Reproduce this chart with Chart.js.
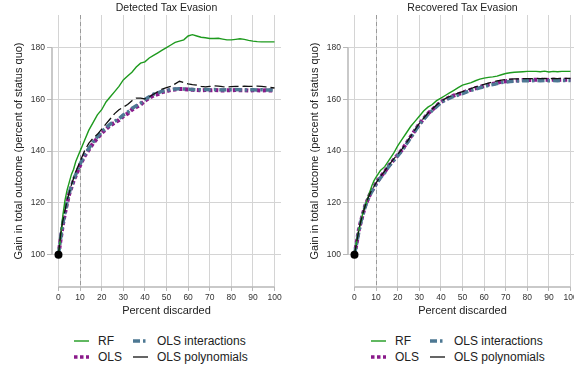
<!DOCTYPE html>
<html>
<head>
<meta charset="utf-8">
<script src="https://cdn.jsdelivr.net/npm/chart.js@4.4.1/dist/chart.umd.min.js"></script>
<style>
  html, body { margin: 0; padding: 0; background: #fff; }
  body { width: 574px; height: 366px; overflow: hidden; position: relative; font-family: "Liberation Sans", Arial, sans-serif; }
  canvas { position: absolute; top: 0; }
  #leftChart { left: 0; }
  #rightChart { left: 296px; }
  .legend { position: absolute; top: 333px; font-size: 12px; color: #222; }
  .item { position: absolute; white-space: nowrap; height: 16px; line-height: 16px; }
  .item svg { position: absolute; left: 0; top: 3px; }
  .item span { position: absolute; }
</style>
</head>
<body>
<canvas id="leftChart" width="290" height="325"></canvas>
<canvas id="rightChart" width="290" height="325"></canvas>
<div class="legend" id="leftLegend" style="left:74px"></div>
<div class="legend" id="rightLegend" style="left:371px"></div>
<script>
// x positions (percent discarded)
var pctDiscarded = [0,1,2,3,4,5,6,7,8,9,10,12,14,16,18,20,22,24,26,28,30,32,34,36,38,40,
  42,44,46,48,50,52,54,56,58,60,62,64,66,68,70,72,74,76,78,80,82,84,86,88,90,92,94,96,98,100];

var xTickLabels = [0,10,20,30,40,50,60,70,80,90,100];
var yTickLabels = [100,120,140,160,180];
var cutoff = 10;

// Detected tax evasion
var detRF = [100,107,115,121,125,128,131,133,136,138,140,
  144,148,151,154,156,159,161,163,165,167.5,169,170.5,172.5,174,174.5,176,177,178,179,180,
  181,182,182.5,183,184.5,185,184.5,184,183.8,183.5,183.5,183.6,183.3,183,183,183.2,183.4,183.2,182.8,182.5,
  182.3,182.2,182.2,182.2,182.2];
var detOLS = [100,106,111.5,116,120,123.5,126,128.5,130.5,132.5,134.5,
  138,140.5,143,145,147,148.5,150,151,152,153.5,154.5,156,157,158,159.5,160.5,161.5,162,162.8,163.2,
  163.6,163.8,164,164,163.8,163.7,163.6,163.5,163.6,163.5,163.6,163.5,163.4,163.5,163.5,163.6,163.5,163.5,163.4,163.5,
  163.5,163.4,163.5,163.4,163.4];
var detInter = [100,106.5,112,116.5,120.5,124,126.5,129,131,133,135,
  138.5,141,143.5,145.5,147.5,149,150.5,151.5,152.5,154,155,156.5,157.5,158.5,160,161,162,162.5,163.2,163.5,
  163.8,164,164.1,164,163.9,163.8,163.7,163.7,163.8,163.7,163.8,163.7,163.6,163.7,163.7,163.8,163.7,163.6,163.7,163.7,
  163.6,163.7,163.6,163.6,163.6];
var detPoly = [100,108,113,117,121,124,127,129.5,132,134,136,
  140,143,145,146.5,148.5,150.5,152.5,154.5,156,157,158,159.5,160.5,160.5,160.2,161,162,163,164,164.5,
  165,166,167,166.5,166,165.7,165.5,165,164.8,165,165.2,165.1,164.9,164.8,164.9,165,165,165.1,165,165,
  165.1,165,164.8,164.6,164.4];

// Recovered tax evasion
var recRF = [100,105,109.5,113,116.5,119,121.5,124,126.5,128.5,130,
  132.5,134,136.5,139,142,144.5,147,149.5,151.5,153.5,155.5,157,158,159.5,160.5,161.5,162.5,163.5,164.5,165.5,
  166,166.5,167.2,167.8,168.2,168.5,168.7,169,169.5,170,170.3,170.5,170.6,170.7,170.8,170.8,170.8,170.7,170.9,170.6,
  170.8,170.7,170.8,170.8,170.8];
var recOLS = [100,104.5,109.5,113,116,119,121,123,124.5,126,127.5,
  130,132,134.5,136.5,138.5,140.5,143,145.5,148,150.5,152.5,154.5,156,157.5,159,160,160.8,161.5,162,162.5,
  163.2,163.8,164.3,164.8,165.2,165.7,166,166.4,166.8,167,167.2,167.3,167.4,167.5,167.5,167.5,167.6,167.5,167.6,167.5,
  167.6,167.5,167.6,167.6,167.6];
var recInter = [100,104.3,108.8,112.8,115.8,118.7,120.8,122.8,124.3,125.8,127.2,
  129.7,131.7,134.2,136.2,138.2,140.2,142.7,145.2,147.7,150.2,152.2,154.2,155.7,157.2,158.7,159.7,160.5,161.2,161.7,162.2,
  162.9,163.5,164,164.5,164.9,165.4,165.7,166.1,166.5,166.7,166.9,167,167.1,167.2,167.2,167.2,167.3,167.2,167.3,167.2,
  167.3,167.2,167.3,167.3,167.3];
var recPoly = [100,104.8,109.5,113.2,116.2,119,121.2,123.2,125,126.3,127.7,
  130.2,132.3,134.7,136.8,138.8,140.8,143.2,145.7,148.2,150.7,152.7,154.7,156.3,157.8,159.2,160.3,161.1,161.8,162.4,163,
  163.6,164.2,164.8,165.3,165.8,166.3,166.7,167.1,167.4,167.7,167.8,167.9,167.9,168,168,168,168.1,168,168.1,168,
  168.1,168,168.1,168.1,168.1];

var seriesNames = ['RF', 'OLS interactions', 'OLS', 'OLS polynomials'];

var styles = {
  'RF': { color: '#1e9a1e', width: 1.4, dash: [] },
  'OLS': { color: '#8a1a8a', width: 4, dash: [3.5, 2.5] },
  'OLS interactions': { color: '#4d7893', width: 3.5, dash: [7, 3, 2.5, 3] },
  'OLS polynomials': { color: '#111', width: 1.3, dash: [10, 4] }
};
var drawOrder = { 'OLS polynomials': 0, 'RF': 1, 'OLS interactions': 2, 'OLS': 3 };

function toPoints(ys) {
  return ys.map(function (y, i) { return { x: pctDiscarded[i], y: y }; });
}

var decorPlugin = {
  id: 'decor',
  beforeDatasetsDraw: function (chart) {
    var ctx = chart.ctx, a = chart.chartArea;
    var xs = chart.scales.x, ys = chart.scales.y;
    ctx.save();
    // cutoff line
    ctx.strokeStyle = '#9a9a9a';
    ctx.lineWidth = 1;
    ctx.setLineDash([4, 3]);
    var cx = Math.round(xs.getPixelForValue(cutoff)) + 0.5;
    ctx.beginPath(); ctx.moveTo(cx, a.top); ctx.lineTo(cx, a.bottom); ctx.stroke();
    // axis lines across the tick range
    ctx.setLineDash([]);
    ctx.strokeStyle = '#b8b8b8';
    ctx.lineWidth = 1.5;
    ctx.beginPath();
    ctx.moveTo(a.left, ys.getPixelForValue(yTickLabels[0]));
    ctx.lineTo(a.left, ys.getPixelForValue(yTickLabels[yTickLabels.length - 1]));
    ctx.moveTo(xs.getPixelForValue(xTickLabels[0]), a.bottom);
    ctx.lineTo(xs.getPixelForValue(xTickLabels[xTickLabels.length - 1]), a.bottom);
    ctx.stroke();
    ctx.restore();
  },
  afterDraw: function (chart, args, opts) {
    var ctx = chart.ctx, a = chart.chartArea;
    ctx.save();
    ctx.font = '10.5px "Liberation Sans", Arial, sans-serif';
    ctx.fillStyle = '#222';
    ctx.textAlign = 'center';
    ctx.textBaseline = 'middle';
    ctx.fillText(opts.title, (a.left + a.right) / 2, 8);
    ctx.restore();
  }
};

function makePanel(id, title, rf, ols, inter, poly) {
  var values = { 'RF': rf, 'OLS': ols, 'OLS interactions': inter, 'OLS polynomials': poly };
  var datasets = seriesNames.map(function (name) {
    var s = styles[name];
    return {
      label: name,
      data: toPoints(values[name]),
      borderColor: s.color,
      backgroundColor: s.color,
      borderWidth: s.width,
      borderDash: s.dash,
      borderCapStyle: 'butt',
      tension: 0,
      order: drawOrder[name],
      pointRadius: name === 'OLS polynomials' ? function (c) { return c.dataIndex === 0 ? 4 : 0; } : 0,
      pointBackgroundColor: '#000',
      pointBorderWidth: 0
    };
  });

  return new Chart(document.getElementById(id).getContext('2d'), {
    type: 'line',
    data: { datasets: datasets },
    options: {
      responsive: false,
      animation: false,
      devicePixelRatio: 1,
      layout: { padding: { top: 15, right: 9, left: 0, bottom: 0 } },
      plugins: {
        legend: { display: false },
        tooltip: { enabled: false },
        decor: { title: title }
      },
      scales: {
        x: {
          type: 'linear',
          min: -3, max: 103,
          afterFit: function (s) { s.height = 38; },
          afterBuildTicks: function (s) { s.ticks = xTickLabels.map(function (v) { return { value: v }; }); },
          border: { display: false },
          grid: { color: '#d4d4d4', borderDash: [1, 3], tickLength: 4, tickColor: '#b8b8b8', tickBorderDash: [], tickWidth: 1 },
          ticks: { color: '#333', font: { size: 8.5, family: '"Liberation Sans", Arial, sans-serif' }, padding: 2, maxRotation: 0 },
          title: { display: true, text: 'Percent discarded', color: '#222', font: { size: 11, family: '"Liberation Sans", Arial, sans-serif' }, padding: { top: 0, bottom: 7.4 } }
        },
        y: {
          type: 'linear',
          min: 87.5, max: 192.6,
          afterFit: function (s) { s.width = 52; },
          afterBuildTicks: function (s) { s.ticks = yTickLabels.map(function (v) { return { value: v }; }); },
          border: { display: false },
          grid: { color: '#d4d4d4', borderDash: [1, 3], tickLength: 5, tickColor: '#b8b8b8', tickBorderDash: [], tickWidth: 1 },
          ticks: { color: '#333', font: { size: 8.5, family: '"Liberation Sans", Arial, sans-serif' }, padding: 2 },
          title: { display: true, text: 'Gain in total outcome (percent of status quo)', color: '#222', font: { size: 11, family: '"Liberation Sans", Arial, sans-serif' }, padding: { top: 12, bottom: 0 } }
        }
      }
    },
    plugins: [decorPlugin]
  });
}

makePanel('leftChart', 'Detected Tax Evasion', detRF, detOLS, detInter, detPoly);
makePanel('rightChart', 'Recovered Tax Evasion', recRF, recOLS, recInter, recPoly);

// legend: two columns, two rows
var legendSlots = [
  { name: 'RF', x: 0, y: 0 },
  { name: 'OLS interactions', x: 59, y: 0 },
  { name: 'OLS', x: 0, y: 16 },
  { name: 'OLS polynomials', x: 59, y: 16 }
];
function buildLegend(el) {
  legendSlots.forEach(function (slot) {
    var s = styles[slot.name];
    var item = document.createElement('div');
    item.className = 'item';
    item.style.left = slot.x + 'px';
    item.style.top = slot.y + 'px';
    // the polynomial sample is shorter than one dash, so it shows solid
    var dash = slot.name === 'OLS polynomials' ? [] : s.dash;
    item.innerHTML = '<svg width="16" height="10"><line x1="0" y1="5" x2="15" y2="5" stroke="' + s.color +
      '" stroke-width="' + Math.min(s.width, 3.5) + '" stroke-dasharray="' + (dash.length ? dash.join(' ') : 'none') +
      '"/></svg><span style="left:24px">' + slot.name + '</span>';
    el.appendChild(item);
  });
}
buildLegend(document.getElementById('leftLegend'));
buildLegend(document.getElementById('rightLegend'));
</script>
</body>
</html>
